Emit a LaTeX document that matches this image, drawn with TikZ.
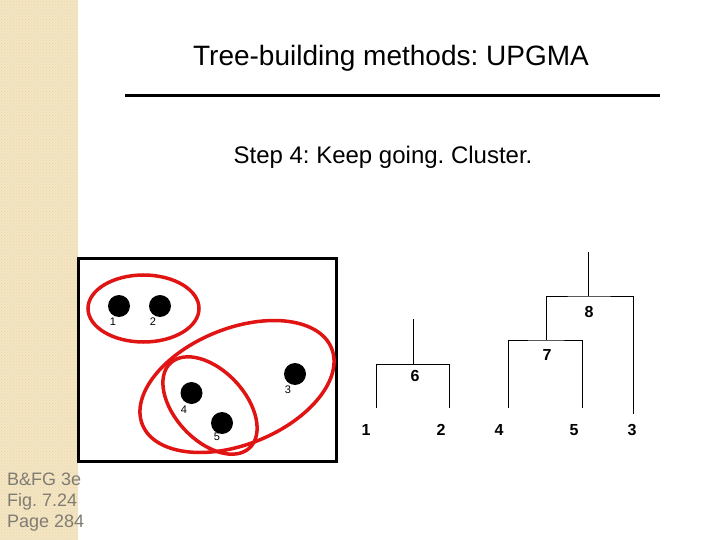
\documentclass[tikz,border=0pt]{standalone}
\usepackage{fontspec}
\usetikzlibrary{patterns}
\setmainfont{Liberation Sans}
\definecolor{strip}{RGB}{244,230,196}
\definecolor{stripdot}{RGB}{232,212,165}
\definecolor{stripfg}{RGB}{128,124,116}
\definecolor{ringred}{RGB}{225,20,20}
\frenchspacing
\begin{document}
\begin{tikzpicture}[x=1pt,y=-1pt,
  dot/.style={circle,fill=black,inner sep=0pt,minimum size=22pt},
  dotlabel/.style={font=\fontsize{11}{12}\selectfont,inner sep=0pt},
  ring/.style={draw=ringred,line width=3.5pt},
  branch/.style={draw=black,line width=0.9pt},
  clabel/.style={font=\bfseries\fontsize{16}{18}\selectfont,inner sep=0pt},
  leaf/.style={font=\bfseries\fontsize{16}{18}\selectfont,inner sep=0pt}]
\useasboundingbox (0,0) rectangle (720,540);
\fill[white] (0,0) rectangle (720,540);
\fill[strip] (0,0) rectangle (78,540);
\fill[pattern=crosshatch dots,pattern color=stripdot] (0,0) rectangle (78,540);
% side text
\node[anchor=west,text=stripfg,font=\fontsize{18}{21}\selectfont,inner sep=0pt,align=left] (ref) at (7,502) {B\&FG 3e\\Fig. 7.24\\Page 284};
% title
\node[font=\fontsize{28}{30}\selectfont,inner sep=0pt] (title) at (391,58) {Tree-building methods: UPGMA};
\draw[line width=3pt] (125,96) -- (660,96);
\node[font=\fontsize{24}{26}\selectfont,inner sep=0pt] (step) at (383,157) {Step 4: Keep going. Cluster.};
% left box
\draw[line width=3pt,fill=white] (78,258) rectangle (336,461);
\node[dot] (d1) at (119,306) {};
\node[dot] (d2) at (160,306) {};
\node[dot] (d3) at (295,374) {};
\node[dot] (d4) at (191.5,393) {};
\node[dot] (d5) at (222,423) {};
\node[dotlabel] (l1) at (113,322) {1};
\node[dotlabel] (l2) at (153,322) {2};
\node[dotlabel] (l3) at (288,390) {3};
\node[dotlabel] (l4) at (184,410) {4};
\node[dotlabel] (l5) at (217,437) {5};
\draw[ring] (143.5,308.5) ellipse [x radius=55.5,y radius=33.5];
\draw[ring] (210,405.5) ellipse [x radius=58,y radius=35,rotate=-47];
\draw[ring] (237,386.5) ellipse [x radius=102,y radius=58,rotate=22];
% tree
\coordinate (t1) at (376,408);
\coordinate (t2) at (449.3,408);
\coordinate (t4) at (508.3,408);
\coordinate (t5) at (582.3,408);
\coordinate (t3) at (633.3,414);
\coordinate (n6) at (413.3,364.3);
\coordinate (n6top) at (413.3,319);
\coordinate (n7) at (546.7,340);
\coordinate (n8) at (588.3,296);
\coordinate (n8top) at (588.3,252.3);
\draw[branch] (t1) |- (n6) -| (t2);
\draw[branch] (n6) -- (n6top);
\draw[branch] (t4) |- (n7) -| (t5);
\draw[branch] (n7) |- (n8) -| (t3);
\draw[branch] (n8) -- (n8top);
\node[clabel] (c6) at (415,376) {6};
\node[clabel] (c7) at (547,355) {7};
\node[clabel] (c8) at (589,312) {8};
\node[leaf] (f1) at (366,430) {1};
\node[leaf] (f2) at (441,430) {2};
\node[leaf] (f4) at (499,430) {4};
\node[leaf] (f5) at (574,430) {5};
\node[leaf] (f3) at (632,430) {3};
\end{tikzpicture}
\end{document}
